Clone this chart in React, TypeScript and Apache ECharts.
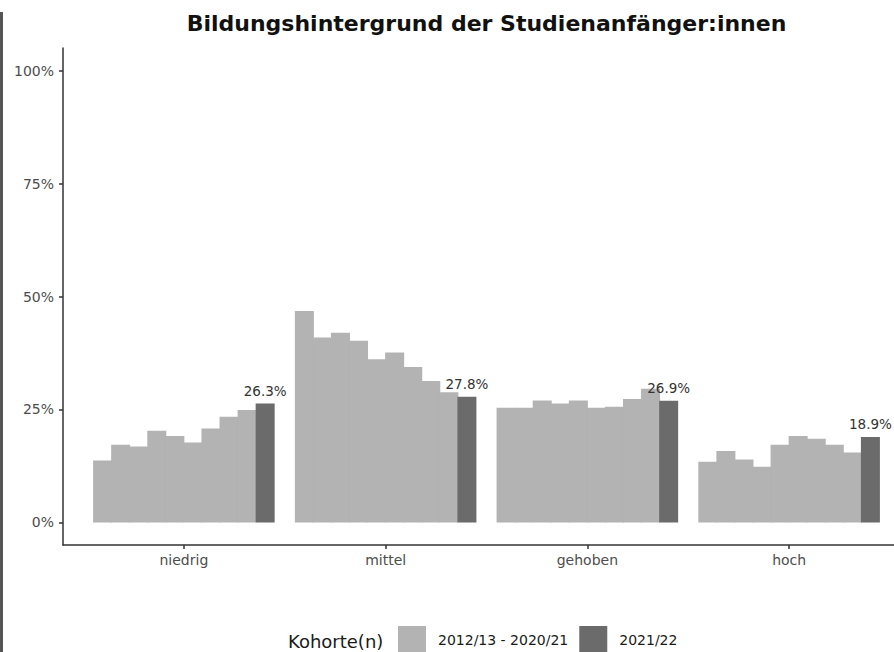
import React, { useEffect, useRef } from "react";
import * as echarts from "echarts";

const titleText = "Bildungshintergrund der Studienanfänger:innen";
const categories = ["niedrig", "mittel", "gehoben", "hoch"];
const cohorts = [
  "2012/13", "2013/14", "2014/15", "2015/16", "2016/17",
  "2017/18", "2018/19", "2019/20", "2020/21", "2021/22",
];
// values (%) per cohort, in category order niedrig, mittel, gehoben, hoch
const v2012 = [13.7, 46.8, 25.4, 13.4];
const v2013 = [17.2, 40.9, 25.4, 15.8];
const v2014 = [16.8, 42.0, 27.0, 13.9];
const v2015 = [20.3, 40.2, 26.3, 12.3];
const v2016 = [19.1, 36.1, 27.0, 17.2];
const v2017 = [17.7, 37.6, 25.4, 19.1];
const v2018 = [20.8, 34.4, 25.6, 18.5];
const v2019 = [23.4, 31.3, 27.3, 17.2];
const v2020 = [24.9, 28.8, 29.6, 15.5];
const v2021 = [26.3, 27.8, 26.9, 18.9];
const cohortValues = [v2012, v2013, v2014, v2015, v2016, v2017, v2018, v2019, v2020, v2021];
const legendLabels = ["2012/13 - 2020/21", "2021/22"];
const legendTitle = "Kohorte(n)";
const yTicks = [0, 25, 50, 75, 100];

const FONT = "'DejaVu Sans', 'Liberation Sans', Arial, sans-serif";
const LIGHT = "#B3B3B3";
const DARK = "#6B6B6B";
const AXIS = "#333333";

export default function App() {
  const ref = useRef<HTMLDivElement>(null);
  useEffect(() => {
    if (!ref.current) return;
    const chart = echarts.init(ref.current, undefined, { renderer: "svg" });
    const last = cohorts.length - 1;
    const series = cohorts.map((c, i) => {
      const color = i < last ? LIGHT : DARK;
      return {
        type: "bar",
        id: c,
        name: i < last ? legendLabels[0] : legendLabels[1],
        xAxisIndex: 0,
        yAxisIndex: 0,
        data: cohortValues[i],
        barGap: "-5%",
        barCategoryGap: "10%",
        itemStyle: { color },
        label:
          i === last
            ? {
                show: true,
                position: "top",
                distance: 6,
                fontFamily: FONT,
                fontSize: 13.5,
                color: "#333",
                formatter: (p: any) => `${Number(p.value).toFixed(1)}%`,
              }
            : { show: false },
      };
    });

    chart.setOption({
      animation: false,
      backgroundColor: "#fff",
      textStyle: { fontFamily: FONT },
      title: [
        {
          text: titleText,
          left: "center",
          top: 7,
          textStyle: { fontFamily: FONT, fontSize: 22, fontWeight: "bold", color: "#111" },
        },
        {
          text: legendTitle,
          left: 288,
          top: 632,
          padding: 0,
          textStyle: { fontFamily: FONT, fontSize: 18, fontWeight: "normal", color: "#1a1a1a" },
        },
      ],
      legend: {
        data: legendLabels,
        left: 398,
        top: 626,
        padding: 0,
        itemWidth: 28,
        itemHeight: 28,
        itemGap: 11,
        icon: "rect",
        selectedMode: false,
        textStyle: { fontFamily: FONT, fontSize: 14, color: "#1a1a1a", padding: [0, 0, 0, 7] },
      },
      graphic: [
        { type: "rect", left: 0, top: 12, shape: { width: 3, height: 640 }, style: { fill: "#555" } },
      ],
      grid: [
        { left: 83, right: 83, top: 48, bottom: 107 },
        { left: 63, right: 63, top: 48, bottom: 107 },
      ],
      xAxis: [
        {
          type: "category",
          gridIndex: 0,
          data: categories,
          axisLine: { show: false, onZero: false },
          axisTick: { show: true, alignWithLabel: true, length: 4, lineStyle: { color: AXIS, width: 1.5 } },
          axisLabel: { color: "#4d4d4d", fontSize: 14, fontFamily: FONT, margin: 8 },
          splitLine: { show: false },
        },
        {
          type: "value",
          gridIndex: 1,
          min: 0,
          max: 1,
          axisLine: { show: true, onZero: false, lineStyle: { color: AXIS, width: 1.5 } },
          axisTick: { show: false },
          axisLabel: { show: false },
          splitLine: { show: false },
        },
      ],
      yAxis: [
        {
          type: "value",
          gridIndex: 0,
          min: -5,
          max: 105,
          offset: 20,
          axisLine: { show: true, lineStyle: { color: AXIS, width: 1.5 } },
          axisTick: { show: true, length: 4, customValues: yTicks, lineStyle: { color: AXIS, width: 1.5 } },
          axisLabel: {
            customValues: yTicks,
            formatter: (v: number) => `${v}%`,
            color: "#4d4d4d",
            fontSize: 14,
            fontFamily: FONT,
            margin: 9,
          },
          splitLine: { show: false },
        },
        { type: "value", gridIndex: 1, show: false, min: 0, max: 1 },
      ],
      series,
    });
    return () => chart.dispose();
  }, []);

  return (
    <div style={{ position: "absolute", left: 0, top: 0, width: 894, height: 652, overflow: "hidden", background: "#fff" }}>
      <div ref={ref} style={{ width: 973, height: 652 }} />
    </div>
  );
}
